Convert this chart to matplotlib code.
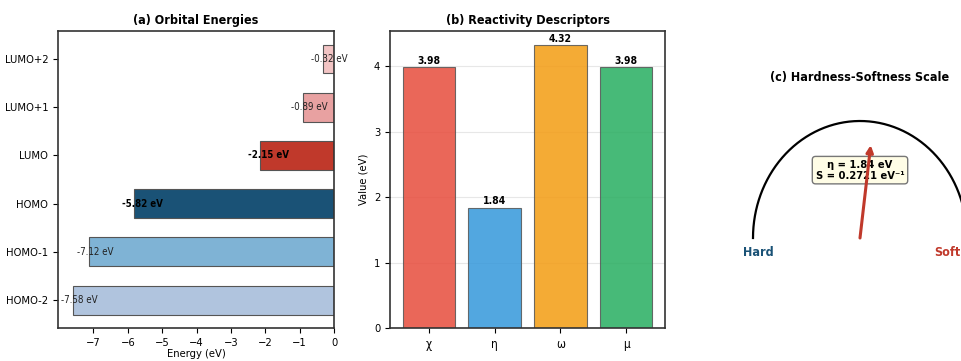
import numpy as np
import matplotlib
matplotlib.use("Agg")
import matplotlib.pyplot as plt

# ---- data ----
orbitals = ["HOMO-2", "HOMO-1", "HOMO", "LUMO", "LUMO+1", "LUMO+2"]
energies = [-7.58, -7.12, -5.82, -2.15, -0.89, -0.32]
orb_colors = ["#b0c4de", "#7fb3d5", "#1a5276", "#c0392b", "#e8a1a1", "#f2c4c4"]

descriptors = ["χ", "η", "ω", "μ"]
desc_values = [3.98, 1.84, 4.32, 3.98]
desc_colors = ["#e74c3c", "#3498db", "#f39c12", "#27ae60"]

eta = 1.84
softness = 0.2721
eta_max = 4.0

plt.rcParams['font.family'] = ['DejaVu Sans']
plt.rcParams['font.stretch'] = 'condensed'

W, H = 962, 361
fig = plt.figure(figsize=(W / 100, H / 100), dpi=100)

def px_axes(x0, y0, x1, y1):
    return fig.add_axes([x0 / W, (H - y1) / H, (x1 - x0) / W, (y1 - y0) / H])

def style_spines(ax):
    for s in ax.spines.values():
        s.set_color("#333333")
        s.set_linewidth(1.2)

# ---- (a) orbital energies ----
ax1 = px_axes(58, 31, 334, 328)
y = np.arange(len(orbitals))
ax1.barh(y, energies, height=0.6, color=orb_colors, edgecolor="#555555", linewidth=0.8)
for i, (e, name) in enumerate(zip(energies, orbitals)):
    bold = name in ("HOMO", "LUMO")
    ax1.text(e - 0.35, i, f"{e:.2f} eV", va="center", ha="left",
             fontsize=7, fontweight="bold" if bold else "normal",
             color="black" if bold else "#222222")
ax1.set_yticks(y)
ax1.set_yticklabels(orbitals, fontsize=8)
ax1.set_xlim(-8.03, 0)
ax1.set_xticks(np.arange(-7, 1, 1))
ax1.tick_params(axis="x", labelsize=8)
ax1.set_xlabel("Energy (eV)", fontsize=8, labelpad=1)
ax1.set_title("(a) Orbital Energies", fontsize=9, fontweight="bold", pad=5)
style_spines(ax1)

# ---- (b) reactivity descriptors ----
ax2 = px_axes(390, 31, 665, 328)
x = np.arange(len(descriptors))
ax2.bar(x, desc_values, width=0.8, color=desc_colors, alpha=0.85,
        edgecolor="#555555", linewidth=0.8)
for xi, v in zip(x, desc_values):
    ax2.text(xi, v + 0.02, f"{v:.2f}", ha="center", va="bottom",
             fontsize=7.5, fontweight="bold")
ax2.set_xticks(x)
ax2.set_xticklabels(descriptors, fontsize=8.5)
ax2.tick_params(axis="y", labelsize=8)
ax2.set_ylabel("Value (eV)", fontsize=8)
ax2.yaxis.grid(True, alpha=0.3)
ax2.set_axisbelow(True)
ax2.set_title("(b) Reactivity Descriptors", fontsize=9, fontweight="bold", pad=5)
style_spines(ax2)

# ---- (c) hardness-softness scale ----
ax3 = px_axes(680, 88, 1040, 300)
ax3.set_xlim(-180 / 107, 180 / 107)
ax3.set_ylim(-62 / 117, 150 / 117)
ax3.axis("off")
theta = np.linspace(0, np.pi, 200)
ax3.plot(np.cos(theta), np.sin(theta), color="black", lw=1.6)
ang = np.pi * eta / eta_max
tip = (0.8 * np.cos(ang), 0.8 * np.sin(ang))
ax3.text(0, 0.58, f"η = {eta:.2f} eV\nS = {softness:.4f} eV⁻¹",
         ha="center", va="center", fontsize=8, fontweight="bold",
         linespacing=1.1,
         bbox=dict(boxstyle="round,pad=0.3", facecolor="#fffde6",
                   edgecolor="#777777", linewidth=1), zorder=3)
ax3.annotate("", xy=tip, xytext=(0, 0),
             arrowprops=dict(arrowstyle="-|>", color="#c0392b", lw=2.2,
                             mutation_scale=10, shrinkA=0, shrinkB=0), zorder=4)
ax3.text(-0.95, -0.12, "Hard", ha="center", va="center", fontsize=9,
         fontweight="bold", color="#1a5276")
ax3.text(0.82, -0.12, "Soft", ha="center", va="center", fontsize=9,
         fontweight="bold", color="#c0392b")
ax3.set_title("(c) Hardness-Softness Scale", fontsize=9, fontweight="bold", pad=5)

fig.savefig("out.png", dpi=100)
